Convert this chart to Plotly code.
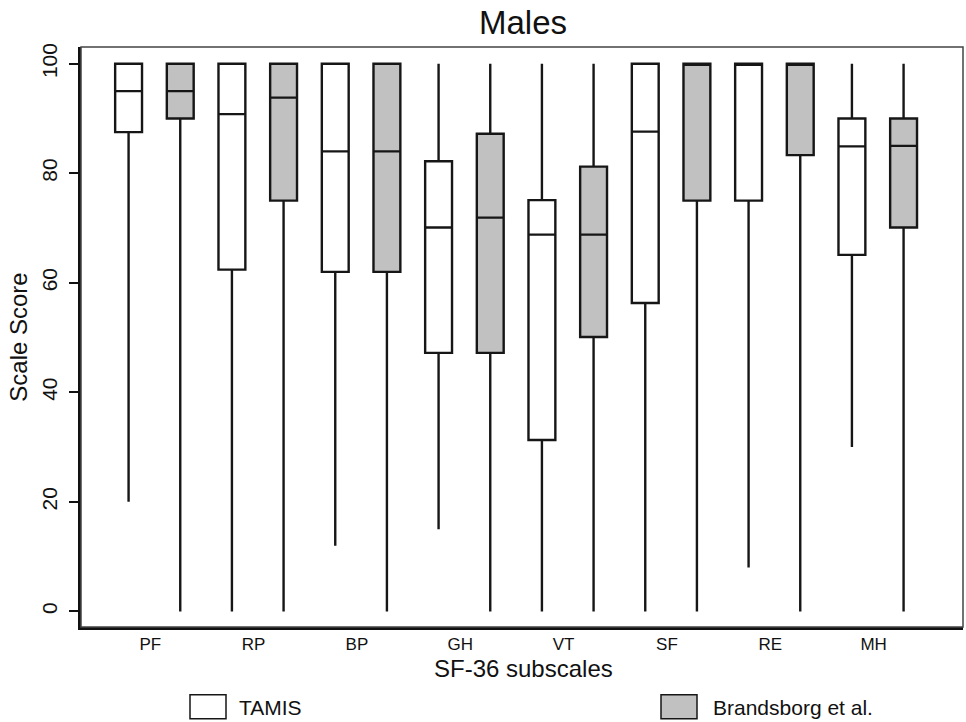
import plotly.graph_objects as go

# ---- data ----
subscales = ["PF", "RP", "BP", "GH", "VT", "SF", "RE", "MH"]

tamis_low = [20, 0, 12, 15, 0, 0, 8, 30]
tamis_q1 = [87.5, 62.4, 62.0, 47.2, 31.3, 56.3, 75.0, 65.1]
tamis_med = [95.0, 90.8, 84.0, 70.1, 68.8, 87.6, 100.0, 84.9]
tamis_q3 = [100, 100, 100, 82.2, 75.1, 100, 100, 90.0]
tamis_high = [100, 100, 100, 100, 100, 100, 100, 100]

brand_low = [0, 0, 0, 0, 0, 0, 0, 0]
brand_q1 = [90.0, 75.0, 62.0, 47.2, 50.1, 75.0, 83.3, 70.1]
brand_med = [95.0, 93.8, 84.0, 71.9, 68.8, 100.0, 100.0, 85.0]
brand_q3 = [100, 100, 100, 87.2, 81.2, 100, 100, 90.0]
brand_high = [100, 100, 100, 100, 100, 100, 100, 100]

y_ticks = [0, 20, 40, 60, 80, 100]

# ---- layout helpers ----
n = len(subscales)
pos_tamis = [2 * i for i in range(n)]
pos_brand = [2 * i + 1 for i in range(n)]
label_pos = [2 * i + 0.42 for i in range(n)]

FONT = "Liberation Sans, Arial, Helvetica, sans-serif"
LINE = "#161616"
GRAY = "#c1c1c1"

W, H = 966, 722
PL, PR, PT, PB = 81, 963, 47.3, 627.3   # plot-area edges in pixels

fig = go.Figure()
fig.add_trace(go.Box(
    name="TAMIS", x=pos_tamis, q1=tamis_q1, median=tamis_med, q3=tamis_q3,
    lowerfence=tamis_low, upperfence=tamis_high,
    width=0.52, whiskerwidth=0, fillcolor="white",
    line=dict(color=LINE, width=2.4), boxpoints=False, showlegend=False,
    hoverinfo="skip"))
fig.add_trace(go.Box(
    name="Brandsborg et al.", x=pos_brand, q1=brand_q1, median=brand_med, q3=brand_q3,
    lowerfence=brand_low, upperfence=brand_high,
    width=0.52, whiskerwidth=0, fillcolor=GRAY,
    line=dict(color=LINE, width=2.4), boxpoints=False, showlegend=False,
    hoverinfo="skip"))

def fx(x):
    return (x - PL) / (PR - PL)
def fy(y):
    return (PB - y) / (PB - PT)

shapes = [
    dict(type="rect", xref="paper", yref="paper", x0=0, x1=1, y0=0, y1=1,
         line=dict(color="#444444", width=1.5), layer="above"),
]
annotations = []
legend_items = [("TAMIS", "white", 190, 226, 237), ("Brandsborg et al.", GRAY, 661, 697, 711)]
for label, fill, x0, x1, tx in legend_items:
    shapes.append(dict(type="rect", xref="paper", yref="paper",
                       x0=fx(x0), x1=fx(x1), y0=fy(719), y1=fy(695),
                       fillcolor=fill, line=dict(color=LINE, width=1.5)))
    annotations.append(dict(text=label, xref="paper", yref="paper",
                            x=fx(tx), y=fy(708),
                            xanchor="left", yanchor="middle", showarrow=False,
                            font=dict(family=FONT, size=21, color="#111")))

# x-axis title as annotation for exact placement
annotations.append(dict(text="SF-36 subscales", xref="paper", yref="paper",
                        x=fx(523), y=fy(669), xanchor="center", yanchor="middle",
                        showarrow=False, font=dict(family=FONT, size=24, color="#111")))

fig.update_layout(
    width=W, height=H,
    margin=dict(l=PL, r=W - PR, t=PT, b=H - PB, autoexpand=False),
    paper_bgcolor="white", plot_bgcolor="white",
    boxmode="overlay",
    title=dict(text="Males", x=523 / W, xanchor="center", y=1 - 22 / H, yanchor="middle",
               font=dict(family=FONT, size=33, color="#111")),
    font=dict(family=FONT, color="#111"),
    shapes=shapes,
    annotations=annotations,
    xaxis=dict(range=[-0.921, 16.15], tickvals=label_pos, ticktext=subscales,
               showgrid=False, zeroline=False, ticks="",
               showline=True, linecolor="#111", linewidth=2.5,
               tickfont=dict(family=FONT, size=17, color="#111"),
               ticklabelstandoff=0),
    yaxis=dict(range=[-2.85, 103.05], tickvals=y_ticks, ticktext=[str(v) for v in y_ticks],
               showgrid=False, zeroline=False, ticks="outside", ticklen=9, tickwidth=2,
               tickcolor="#111", tickangle=-90,
               showline=True, linecolor="#111", linewidth=2.5,
               tickfont=dict(family=FONT, size=21, color="#111"),
               ticklabelstandoff=4,
               title=dict(text="Scale Score", font=dict(family=FONT, size=24, color="#111"),
                          standoff=4)),
)

fig.write_html("out.html", config={"displayModeBar": False},
               post_script="document.body.style.margin='0';document.body.style.overflow='hidden';")
